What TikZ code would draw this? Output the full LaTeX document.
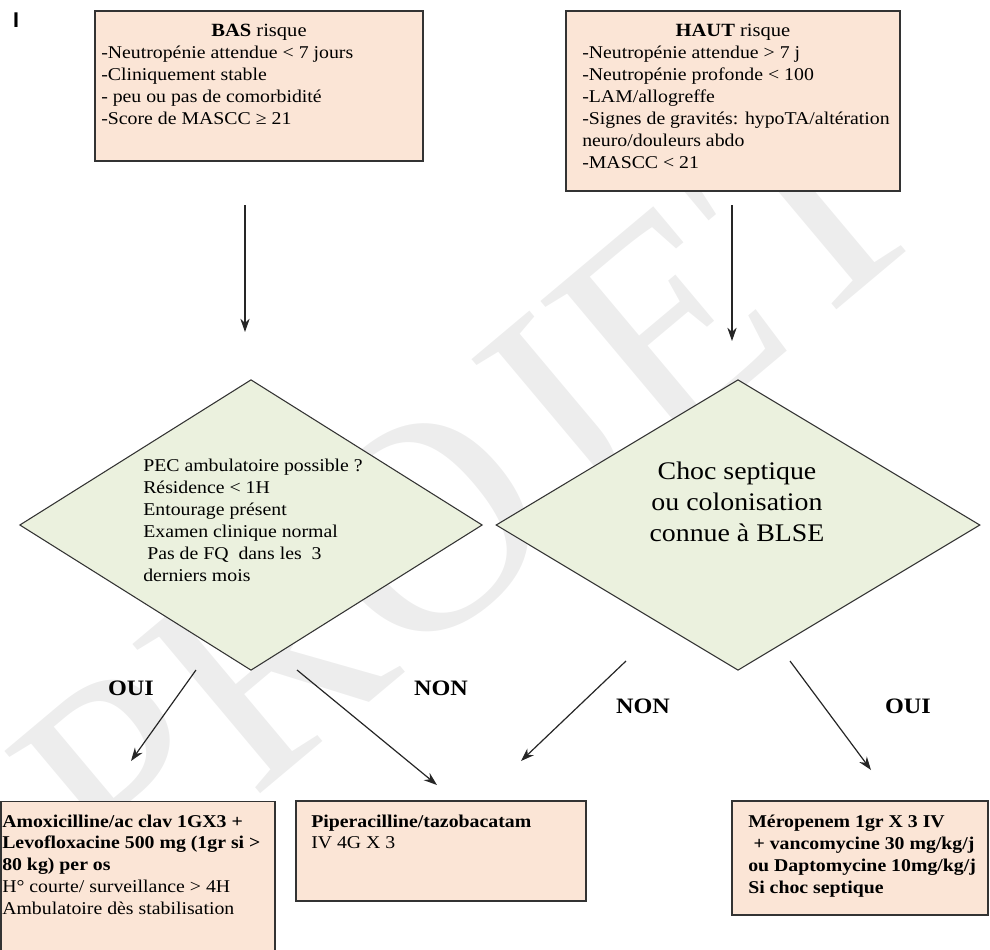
\documentclass[tikz,border=0pt]{standalone}
\usepackage{fontspec}
\setmainfont{Liberation Serif}[FakeStretch=1.1]
\newfontfamily\plainserif{Liberation Serif}
\newfontfamily\sansI{Liberation Sans}
\usetikzlibrary{shapes.geometric,arrows.meta}
\definecolor{peach}{HTML}{FBE5D6}
\definecolor{sage}{HTML}{EBF1DE}
\definecolor{frame}{HTML}{333333}
\definecolor{wmark}{HTML}{EDEDED}
\begin{document}
\begin{tikzpicture}[x=0.75pt,y=-0.75pt,
  box/.style={draw=frame, line width=1.1pt, fill=peach, inner sep=0pt},
  dia/.style={diamond, draw=frame, line width=0.8pt, fill=sage, inner sep=0pt},
  txt/.style={inner sep=0pt, align=left, font=\fontsize{13.5}{16.5}\selectfont},
  ttl/.style={inner sep=0pt, font=\fontsize{14}{16.5}\selectfont},
  lbl/.style={inner sep=0pt, font=\bfseries\fontsize{16.5}{16.5}\selectfont},
  arr/.style={-{Stealth[length=10pt,width=7pt]}, line width=0.9pt, draw=black!85}]
\useasboundingbox (0,0) rectangle (990,950);

% watermark
\node[rotate=40, text=wmark, inner sep=0pt, font=\plainserif\fontsize{225}{225}\selectfont] (wm) at (470,490) {PROJET};

% corner mark
\node[inner sep=0pt, font=\sansI\bfseries\fontsize{16}{16}\selectfont] (mark) at (16,20) {I};

% top boxes (text nodes anchored at the baseline of their last line)
\node[box, minimum width=246pt, minimum height=112.5pt] (bas) at (259,86) {};
\node[ttl, anchor=base] (basT) at (259,36) {\textbf{BAS} risque};
\node[txt, anchor=base west] (basX) at (101,124) {-Neutropénie attendue < 7 jours\\-Cliniquement stable\\- peu ou pas de comorbidité\\-Score de MASCC ≥ 21};

\node[box, minimum width=250.5pt, minimum height=135pt] (haut) at (733,101) {};
\node[ttl, anchor=base] (hautT) at (733,36) {\textbf{HAUT} risque};
\node[txt, anchor=base west] (hautX) at (582,168) {-Neutropénie attendue > 7 j\\-Neutropénie profonde < 100\\-LAM/allogreffe\\-Signes de gravités: hypoTA/altération\\neuro/douleurs abdo\\-MASCC < 21};

% arrows top -> diamonds
\coordinate (a1s) at (245,205); \coordinate (a1e) at (245,332);
\coordinate (a2s) at (732,205); \coordinate (a2e) at (732,341);
\draw[arr] (a1s) -- (a1e);
\draw[arr] (a2s) -- (a2e);

% diamonds
\node[dia, minimum width=347pt, minimum height=218pt] (d1) at (251,525) {};
\node[txt, anchor=base west] (d1X) at (143,581) {PEC ambulatoire possible ?\\Résidence < 1H\\Entourage présent\\Examen clinique normal\\\hspace{3pt}Pas de FQ \ dans les \ 3\\derniers mois};

\node[dia, minimum width=363pt, minimum height=218pt] (d2) at (738,525) {};
\node[inner sep=0pt, align=center, anchor=base, font=\fontsize{19}{23.25}\selectfont] (d2X) at (737,541) {Choc septique\\ou colonisation\\connue à BLSE};

% branch arrows
\coordinate (a3s) at (196,670); \coordinate (a3e) at (131,761);
\coordinate (a4s) at (297,670); \coordinate (a4e) at (437,785);
\coordinate (a5s) at (626,661); \coordinate (a5e) at (521,761);
\coordinate (a6s) at (790,661); \coordinate (a6e) at (871,770);
\draw[arr] (a3s) -- (a3e);
\draw[arr] (a4s) -- (a4e);
\draw[arr] (a5s) -- (a5e);
\draw[arr] (a6s) -- (a6e);

\node[lbl] (oui1) at (131,688) {OUI};
\node[lbl] (non1) at (441,688) {NON};
\node[lbl] (non2) at (643,706) {NON};
\node[lbl] (oui2) at (908,706) {OUI};

% bottom boxes
\node[box, minimum width=205.5pt, minimum height=127pt] (b1) at (138,886) {};
\node[txt, anchor=base west, font=\fontsize{13.5}{16.3}\selectfont] (b1X) at (2,914) {\textbf{Amoxicilline/ac clav 1GX3 +}\\\textbf{Levofloxacine 500 mg (1gr si >}\\\textbf{80 kg) per os}\\H° courte/ surveillance > 4H\\Ambulatoire dès stabilisation};

\node[box, minimum width=217.5pt, minimum height=75pt] (b2) at (441,851) {};
\node[txt, anchor=base west, font=\fontsize{13.5}{15.5}\selectfont] (b2X) at (311,848) {\textbf{Piperacilline/tazobacatam}\\IV 4G X 3};

\node[box, minimum width=192pt, minimum height=85.5pt] (b3) at (860,858) {};
\node[txt, anchor=base west, font=\bfseries\fontsize{13.5}{16.5}\selectfont] (b3X) at (748,893) {Méropenem 1gr X 3 IV\\\hspace{4pt}+ vancomycine 30 mg/kg/j\\ou Daptomycine 10mg/kg/j\\Si choc septique};
\end{tikzpicture}
\end{document}
